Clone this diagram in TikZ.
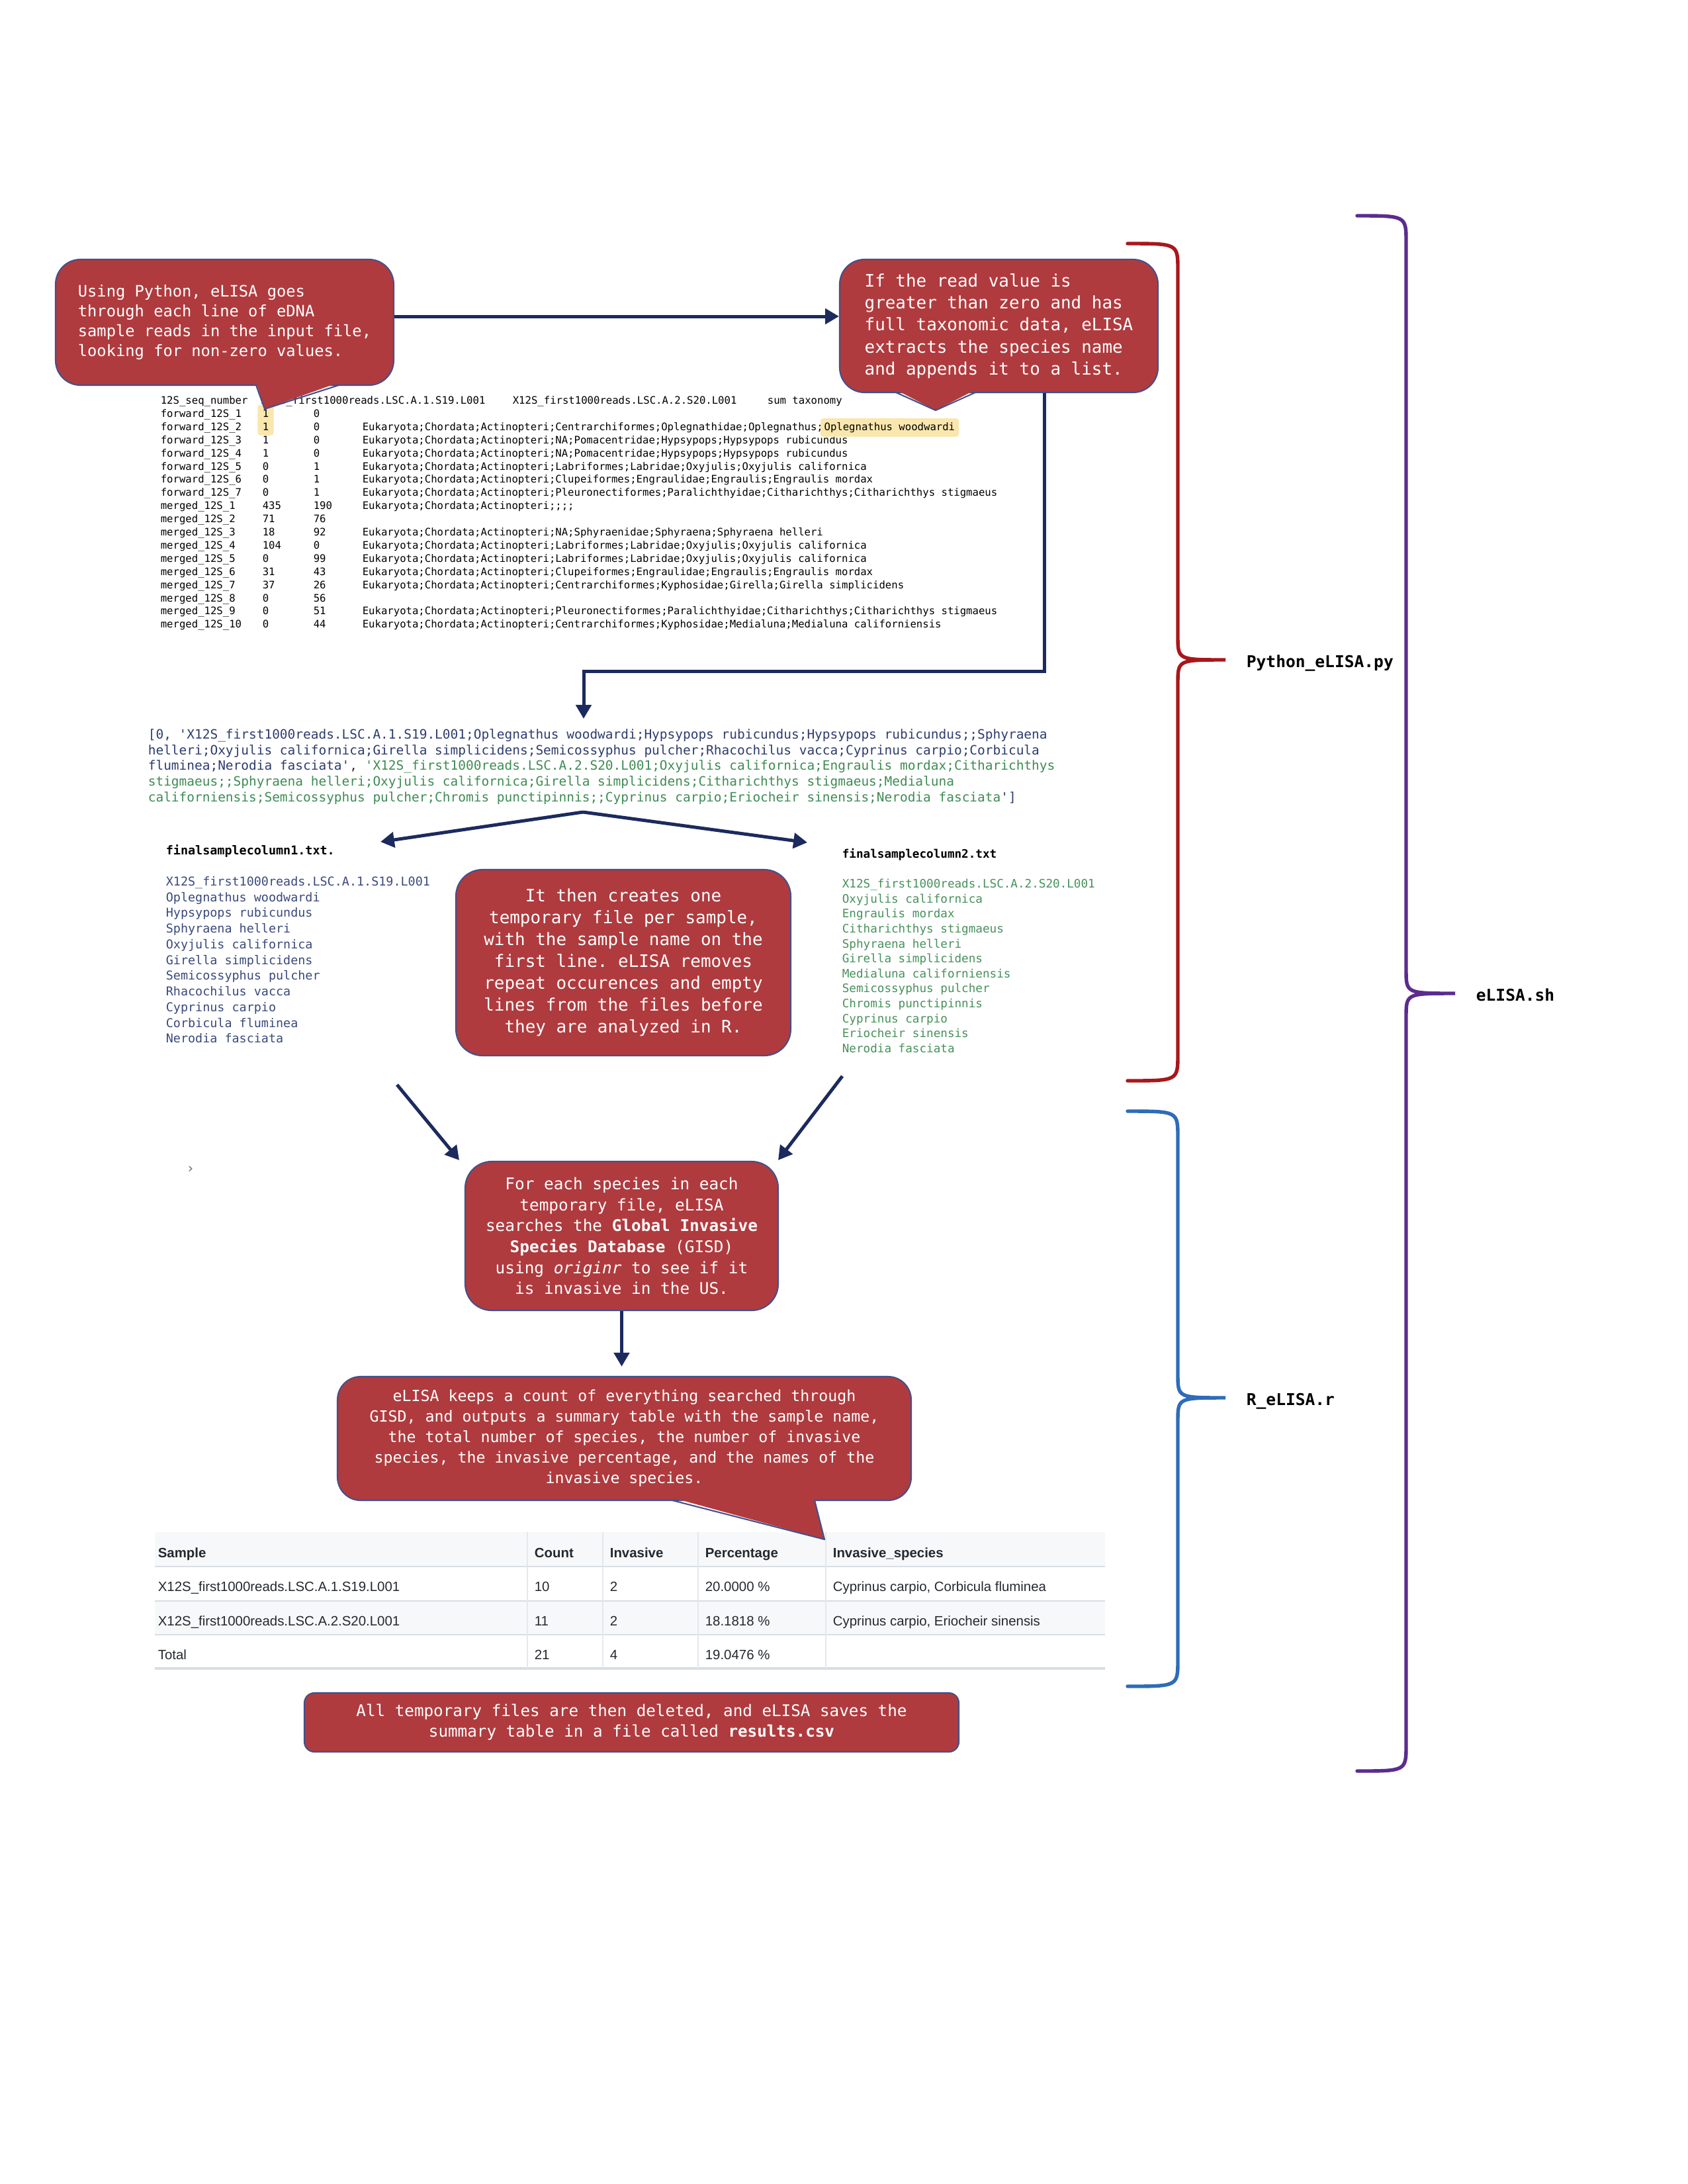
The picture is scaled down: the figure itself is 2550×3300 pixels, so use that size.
\documentclass[tikz,border=0pt]{standalone}
\usepackage{fontspec}
\setmainfont{DejaVu Sans}
\setmonofont{DejaVu Sans Mono}
\newfontfamily\tsans{Liberation Sans}
\usetikzlibrary{arrows.meta,fit,backgrounds}
\definecolor{callfill}{HTML}{AF3B3E}
\definecolor{callline}{HTML}{44508A}
\definecolor{navy}{HTML}{1C2A5E}
\definecolor{listblue}{HTML}{2E3C6E}
\definecolor{listgreen}{HTML}{3E8C53}
\definecolor{colblue}{HTML}{3A4A7C}
\definecolor{colgreen}{HTML}{46915A}
\definecolor{hlyellow}{HTML}{FAE7AE}
\definecolor{tabgray}{HTML}{F6F8FA}
\definecolor{tabline}{HTML}{D8DEE4}
\definecolor{tabtext}{HTML}{24292F}
\definecolor{bred}{HTML}{A8171C}
\definecolor{bblue}{HTML}{2E6CB8}
\definecolor{bpurple}{HTML}{5B2C8F}
\newcommand\drawbrace[7]{%
  \draw[#7] (#1,#4) .. controls (#2,#4) .. (#2,#4+40) -- (#2,#5-36)
    .. controls (#2,#5) .. (#3,#5) .. controls (#2,#5) .. (#2,#5+36)
    -- (#2,#6-40) .. controls (#2,#6) .. (#1,#6);}
\begin{document}
\begin{tikzpicture}[x=0.24pt,y=-0.24pt,
  callout/.style={draw=callline, line width=0.5pt, fill=callfill, rounded corners=9pt, text=white, inner sep=0pt},
  arr/.style={draw=navy, line width=1.2pt, -{Triangle[length=5pt,width=5.5pt]}},
  datat/.style={font=\ttfamily\fontsize{3.75}{4.5}\selectfont, text=black, anchor=mid west, inner sep=0pt},
  listt/.style={font=\ttfamily\fontsize{4.67}{5.6}\selectfont, anchor=mid west, inner sep=0pt},
  colone/.style={font=\ttfamily\fontsize{4.42}{5.6}\selectfont, text=colblue, anchor=mid west, inner sep=0pt},
  coltwo/.style={font=\ttfamily\fontsize{4.23}{5.4}\selectfont, text=colgreen, anchor=mid west, inner sep=0pt},
  tabt/.style={font=\tsans\fontsize{4.9}{6}\selectfont, text=tabtext, anchor=mid west, inner sep=0pt},
  tabh/.style={font=\tsans\bfseries\fontsize{4.9}{6}\selectfont, text=tabtext, anchor=mid west, inner sep=0pt},
  blabel/.style={font=\ttfamily\bfseries\fontsize{5.9}{7}\selectfont, text=black, anchor=mid west, inner sep=0pt}
]
\useasboundingbox (0,0) rectangle (2550,3300);
\begin{scope}[on background layer]
  \fill[white] (0,0) rectangle (2550,3300);
\end{scope}

% ---------- input data table ----------
\node[datat] (h1) at (242,599) {12S\_seq\_number};
\node[datat] (h2) at (394,599) {X12S\_first1000reads.LSC.A.1.S19.L001};
\node[datat] (h3) at (774,599) {X12S\_first1000reads.LSC.A.2.S20.L001};
\node[datat] (h4) at (1159,599) {sum taxonomy};
\foreach \nm/\va/\vb/\tx [count=\i] in {
  forward\_12S\_1/1/0/{},
  forward\_12S\_2/1/0/{Eukaryota;Chordata;Actinopteri;Centrarchiformes;Oplegnathidae;Oplegnathus;},
  forward\_12S\_3/1/0/{Eukaryota;Chordata;Actinopteri;NA;Pomacentridae;Hypsypops;Hypsypops rubicundus},
  forward\_12S\_4/1/0/{Eukaryota;Chordata;Actinopteri;NA;Pomacentridae;Hypsypops;Hypsypops rubicundus},
  forward\_12S\_5/0/1/{Eukaryota;Chordata;Actinopteri;Labriformes;Labridae;Oxyjulis;Oxyjulis californica},
  forward\_12S\_6/0/1/{Eukaryota;Chordata;Actinopteri;Clupeiformes;Engraulidae;Engraulis;Engraulis mordax},
  forward\_12S\_7/0/1/{Eukaryota;Chordata;Actinopteri;Pleuronectiformes;Paralichthyidae;Citharichthys;Citharichthys stigmaeus},
  merged\_12S\_1/435/190/{Eukaryota;Chordata;Actinopteri;;;;},
  merged\_12S\_2/71/76/{},
  merged\_12S\_3/18/92/{Eukaryota;Chordata;Actinopteri;NA;Sphyraenidae;Sphyraena;Sphyraena helleri},
  merged\_12S\_4/104/0/{Eukaryota;Chordata;Actinopteri;Labriformes;Labridae;Oxyjulis;Oxyjulis californica},
  merged\_12S\_5/0/99/{Eukaryota;Chordata;Actinopteri;Labriformes;Labridae;Oxyjulis;Oxyjulis californica},
  merged\_12S\_6/31/43/{Eukaryota;Chordata;Actinopteri;Clupeiformes;Engraulidae;Engraulis;Engraulis mordax},
  merged\_12S\_7/37/26/{Eukaryota;Chordata;Actinopteri;Centrarchiformes;Kyphosidae;Girella;Girella simplicidens},
  merged\_12S\_8/0/56/{},
  merged\_12S\_9/0/51/{Eukaryota;Chordata;Actinopteri;Pleuronectiformes;Paralichthyidae;Citharichthys;Citharichthys stigmaeus},
  merged\_12S\_10/0/44/{Eukaryota;Chordata;Actinopteri;Centrarchiformes;Kyphosidae;Medialuna;Medialuna californiensis}}{
  \pgfmathsetmacro\yy{619+(\i-1)*19.9}
  \node[datat] (r\i-n) at (242,\yy) {\nm};
  \node[datat] (r\i-a) at (396,\yy) {\va};
  \node[datat] (r\i-b) at (473,\yy) {\vb};
  \node[datat] (r\i-t) at (547,\yy) {\tx};
}
\begin{scope}[on background layer]
  \node[fill=hlyellow, rounded corners=1pt, inner sep=1.6pt, fit=(r1-a)(r2-a)] (hlA) {};
\end{scope}
\node[datat, anchor=base west, fill=hlyellow, rounded corners=1pt, inner xsep=1.4pt, inner ysep=1.5pt] (hlB) at ([xshift=-1.4pt]r2-t.base east) {Oplegnathus woodwardi};

% ---------- callouts top ----------
\node[callout, minimum width=122.64pt, minimum height=45.6pt, font=\ttfamily\fontsize{5.7}{7.27}\selectfont, align=left] (c1) at (339.5,487)
  {Using Python, eLISA goes\\through each line of eDNA\\sample reads in the input file,\\looking for non-zero values.};
\fill[callfill] (387,578) -- (400,618) -- (512,578) -- cycle;
\draw[callline, line width=0.5pt, line join=round] (387,582) -- (400,618) -- (512,582);

\node[callout, minimum width=115.44pt, minimum height=48.24pt, font=\ttfamily\fontsize{6.22}{8.0}\selectfont, align=left] (c2) at (1509.5,492.5)
  {If the read value is\\greater than zero and has\\full taxonomic data, eLISA\\extracts the species name\\and appends it to a list.};
\fill[callfill] (1354,589) -- (1414,620) -- (1474,589) -- cycle;
\draw[callline, line width=0.5pt, line join=round] (1354,593) -- (1414,620) -- (1474,593);

\coordinate (ay) at (0,478);
\draw[arr] (c1.east |- ay) -- (c2.west |- ay);

\coordinate (bend) at (882,1014);
\coordinate (ltip) at (882,1086);
\draw[arr] ([xshift=16.44pt]c2.south) |- (bend) -- (ltip);

% ---------- list ----------
\node[listt, text=listblue] (l1) at (223,1105) {[0, 'X12S\_first1000reads.LSC.A.1.S19.L001;Oplegnathus woodwardi;Hypsypops rubicundus;Hypsypops rubicundus;;Sphyraena};
\node[listt, text=listblue] (l2) at (223,1129) {helleri;Oxyjulis californica;Girella simplicidens;Semicossyphus pulcher;Rhacochilus vacca;Cyprinus carpio;Corbicula};
\node[listt, text=listblue] (l3) at (223,1152) {fluminea;Nerodia fasciata'\textcolor{black!80}{, }\textcolor{listgreen}{'X12S\_first1000reads.LSC.A.2.S20.L001;Oxyjulis californica;Engraulis mordax;Citharichthys}};
\node[listt, text=listgreen] (l4) at (223,1176) {stigmaeus;;Sphyraena helleri;Oxyjulis californica;Girella simplicidens;Citharichthys stigmaeus;Medialuna};
\node[listt, text=listgreen] (l5) at (223,1200) {californiensis;Semicossyphus pulcher;Chromis punctipinnis;;Cyprinus carpio;Eriocheir sinensis;Nerodia fasciata\textcolor{listblue}{']}};

\coordinate (apex) at (881,1227);
\coordinate (f1tip) at (575,1272);
\coordinate (f2tip) at (1220,1273);
\draw[arr] (apex) -- (f1tip);
\draw[arr] (apex) -- (f2tip);

% ---------- file columns ----------
\node[colone, text=black, font=\ttfamily\bfseries\fontsize{4.42}{5.6}\selectfont] (f1title) at (250,1280) {finalsamplecolumn1.txt.};
\foreach \s [count=\i] in {X12S\_first1000reads.LSC.A.1.S19.L001, Oplegnathus woodwardi, Hypsypops rubicundus, Sphyraena helleri, Oxyjulis californica, Girella simplicidens, Semicossyphus pulcher, Rhacochilus vacca, Cyprinus carpio, Corbicula fluminea, Nerodia fasciata}{
  \pgfmathsetmacro\yy{1327+(\i-1)*23.75}
  \node[colone] (fa\i) at (250,\yy) {\s};
}
\node[coltwo, text=black, font=\ttfamily\bfseries\fontsize{4.23}{5.4}\selectfont] (f2title) at (1272,1285) {finalsamplecolumn2.txt};
\foreach \s [count=\i] in {X12S\_first1000reads.LSC.A.2.S20.L001, Oxyjulis californica, Engraulis mordax, Citharichthys stigmaeus, Sphyraena helleri, Girella simplicidens, Medialuna californiensis, Semicossyphus pulcher, Chromis punctipinnis, Cyprinus carpio, Eriocheir sinensis, Nerodia fasciata}{
  \pgfmathsetmacro\yy{1330+(\i-1)*22.65}
  \node[coltwo] (fb\i) at (1272,\yy) {\s};
}

\node[callout, minimum width=121.44pt, minimum height=67.44pt, rounded corners=9.6pt, font=\ttfamily\fontsize{6.22}{7.9}\selectfont, align=center] (c3) at (942,1454.5)
  {It then creates one\\temporary file per sample,\\with the sample name on the\\first line. eLISA removes\\repeat occurences and empty\\lines from the files before\\they are analyzed in R.};

% ---------- GISD ----------
\node[callout, minimum width=113.52pt, minimum height=54pt, rounded corners=9.6pt, font=\ttfamily\fontsize{5.85}{7.6}\selectfont, align=center] (c4) at (939.5,1867.5)
  {For each species in each\\temporary file, eLISA\\searches the \textbf{Global Invasive}\\\textbf{Species Database} (GISD)\\using \textit{originr} to see if it\\is invasive in the US.};
\coordinate (g1s) at (600,1639);
\coordinate (g1e) at (694,1753);
\coordinate (g2s) at (1273,1626);
\coordinate (g2e) at (1176,1753);
\draw[arr] (g1s) -- (g1e);
\draw[arr] (g2s) -- (g2e);
\node[font=\fontsize{5}{6}\selectfont, text=black!55, inner sep=0pt] (mark) at (288,1767) {›};

% ---------- results table ----------
\fill[tabgray] (234,2315) rectangle (1670,2367);
\fill[tabgray] (234,2419) rectangle (1670,2470);
\foreach \yy in {2367,2419,2470} \draw[tabline, line width=0.6pt] (234,\yy) -- (1670,\yy);
\draw[tabline, line width=0.9pt] (234,2521) -- (1670,2521);
\foreach \xx in {797,911,1055,1248} \draw[tabline!70, line width=0.3pt] (\xx,2315) -- (\xx,2521);
\node[tabh] (th1) at (238,2342) {Sample};
\node[tabh] (th2) at (807,2342) {Count};
\node[tabh] (th3) at (921,2342) {Invasive};
\node[tabh] (th4) at (1065,2342) {Percentage};
\node[tabh] (th5) at (1258,2342) {Invasive\_species};
\node[tabt] (ta1) at (238,2393) {X12S\_first1000reads.LSC.A.1.S19.L001};
\node[tabt] (ta2) at (807,2393) {10};
\node[tabt] (ta3) at (921,2393) {2};
\node[tabt] (ta4) at (1065,2393) {20.0000 \%};
\node[tabt] (ta5) at (1258,2393) {Cyprinus carpio, Corbicula fluminea};
\node[tabt] (tb1) at (238,2445) {X12S\_first1000reads.LSC.A.2.S20.L001};
\node[tabt] (tb2) at (807,2445) {11};
\node[tabt] (tb3) at (921,2445) {2};
\node[tabt] (tb4) at (1065,2445) {18.1818 \%};
\node[tabt] (tb5) at (1258,2445) {Cyprinus carpio, Eriocheir sinensis};
\node[tabt] (tc1) at (238,2496) {Total};
\node[tabt] (tc2) at (807,2496) {21};
\node[tabt] (tc3) at (921,2496) {4};
\node[tabt] (tc4) at (1065,2496) {19.0476 \%};

% ---------- summary callout ----------
\node[callout, minimum width=208.08pt, minimum height=44.88pt, rounded corners=8.4pt, font=\ttfamily\fontsize{5.58}{7.44}\selectfont, align=center] (c5) at (943.5,2173.5)
  {eLISA keeps a count of everything searched through\\GISD, and outputs a summary table with the sample name,\\the total number of species, the number of invasive\\species, the invasive percentage, and the names of the\\invasive species.};
\fill[callfill] (1016,2263) -- (1246,2326) -- (1231,2263) -- cycle;
\draw[callline, line width=0.5pt, line join=round] (1016,2267) -- (1246,2326) -- (1231,2267);
\draw[arr] (c4.south) -- ([yshift=3.4pt]c4.south |- c5.north);

\node[callout, minimum width=237.36pt, minimum height=21.36pt, rounded corners=3.6pt, font=\ttfamily\fontsize{5.82}{7.5}\selectfont, align=center] (c6) at (954.5,2602.5)
  {All temporary files are then deleted, and eLISA saves the\\summary table in a file called \textbf{results.csv}};

% ---------- braces ----------
\drawbrace{1704}{1780}{1852}{368}{997}{1633}{bred, line width=1.3pt, line cap=round}
\drawbrace{1704}{1780}{1852}{1679}{2112}{2548}{bblue, line width=1.3pt, line cap=round}
\drawbrace{2051}{2125}{2199}{326}{1501}{2676}{bpurple, line width=1.3pt, line cap=round}
\node[blabel] (lpy) at (1883,997) {Python\_eLISA.py};
\node[blabel] (lr) at (1883,2112) {R\_eLISA.r};
\node[blabel] (lsh) at (2230,1501) {eLISA.sh};
\end{tikzpicture}
\end{document}
